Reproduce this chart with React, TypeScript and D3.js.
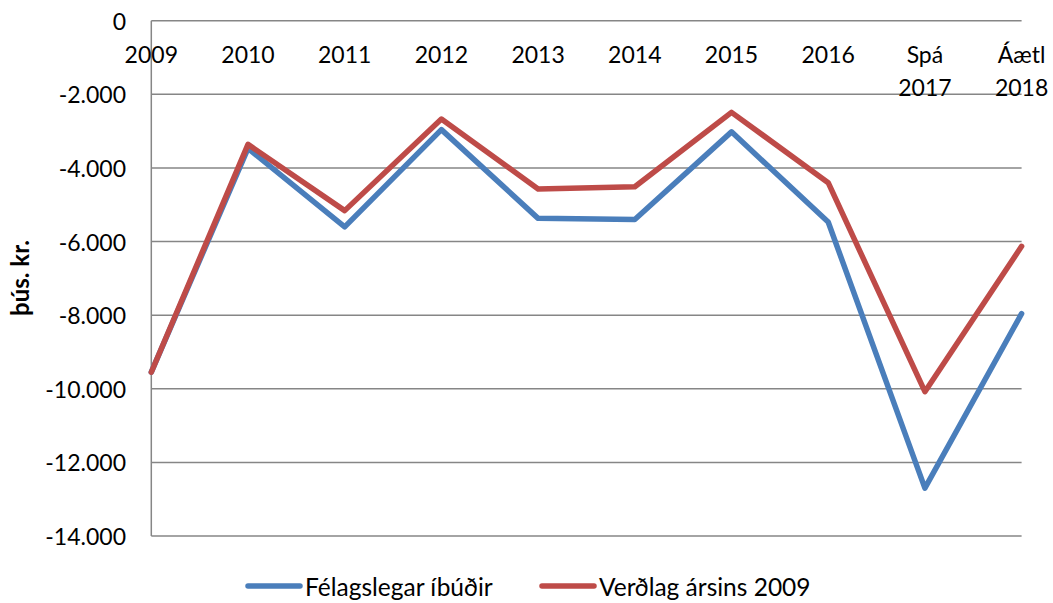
import React from "react";
import * as d3 from "d3";

const categories: string[][] = [
  ["2009"], ["2010"], ["2011"], ["2012"], ["2013"], ["2014"], ["2015"], ["2016"],
  ["Spá", "2017"], ["Áætl", "2018"],
];
const felagslegar = [-9550, -3470, -5600, -2960, -5370, -5400, -3020, -5470, -12700, -7960];
const verdlag = [-9550, -3360, -5160, -2670, -4570, -4510, -2490, -4400, -10080, -6130];
const yTicks = [0, -2000, -4000, -6000, -8000, -10000, -12000, -14000];
const seriesNames = ["Félagslegar íbúðir", "Verðlag ársins 2009"];
const seriesColors = ["#4A7EBB", "#BE4B48"];

const W = 1053;
const H = 603;
const FONT = "Lato, 'Open Sans', sans-serif";

const locale = d3.formatLocale({
  decimal: ",",
  thousands: ".",
  grouping: [3],
  currency: ["", ""],
  minus: "-",
});
const fmt = locale.format(",");

export default function App() {
  const x = d3
    .scalePoint<number>()
    .domain(categories.map((_, i) => i))
    .range([151.3, 1021.6]);
  const y = d3.scaleLinear().domain([-14000, 0]).range([536, 20.7]);

  const line = d3
    .line<number>()
    .x((_, i) => x(i) as number)
    .y((d) => y(d));

  const series = [felagslegar, verdlag];

  return (
    <div style={{ position: "fixed", left: 0, top: 0 }}>
      <svg width={W} height={H} style={{ display: "block", background: "#fff" }}>
        {yTicks.map((t) => (
          <line
            key={"g" + t}
            x1={x(0)}
            x2={x(categories.length - 1)}
            y1={y(t)}
            y2={y(t)}
            stroke="#868686"
            strokeWidth={1.5}
          />
        ))}
        <line x1={x(0)} x2={x(0)} y1={y(0)} y2={y(-14000)} stroke="#868686" strokeWidth={1.5} />
        {yTicks.map((t) => (
          <text
            key={"t" + t}
            x={126}
            y={y(t)}
            textAnchor="end"
            dominantBaseline="central"
            fontFamily={FONT}
            fontSize={23}
            fill="#000"
          >
            {fmt(t)}
          </text>
        ))}
        {categories.map((lines, i) => (
          <text
            key={"c" + i}
            x={x(i)}
            y={63}
            textAnchor="middle"
            fontFamily={FONT}
            fontSize={23}
            fill="#000"
          >
            {lines.map((l, j) => (
              <tspan key={j} x={x(i)} y={63 + j * 33}>
                {l}
              </tspan>
            ))}
          </text>
        ))}
        <text
          transform="translate(29,278) rotate(-90)"
          textAnchor="middle"
          fontFamily={FONT}
          fontSize={24}
          fontWeight="bold"
          fill="#000"
        >
          þús. kr.
        </text>
        {series.map((s, k) => (
          <path
            key={"s" + k}
            d={line(s) || ""}
            fill="none"
            stroke={seriesColors[k]}
            strokeWidth={5.5}
            strokeLinejoin="round"
            strokeLinecap="round"
          />
        ))}
        {seriesNames.map((name, k) => {
          const lx = k === 0 ? 248 : 542;
          return (
            <g key={"l" + k}>
              <line
                x1={lx}
                x2={lx + 52}
                y1={586}
                y2={586}
                stroke={seriesColors[k]}
                strokeWidth={5.5}
                strokeLinecap="round"
              />
              <text
                x={lx + 57}
                y={586}
                dominantBaseline="central"
                fontFamily={FONT}
                fontSize={24.5}
                fill="#000"
              >
                {name}
              </text>
            </g>
          );
        })}
      </svg>
    </div>
  );
}
